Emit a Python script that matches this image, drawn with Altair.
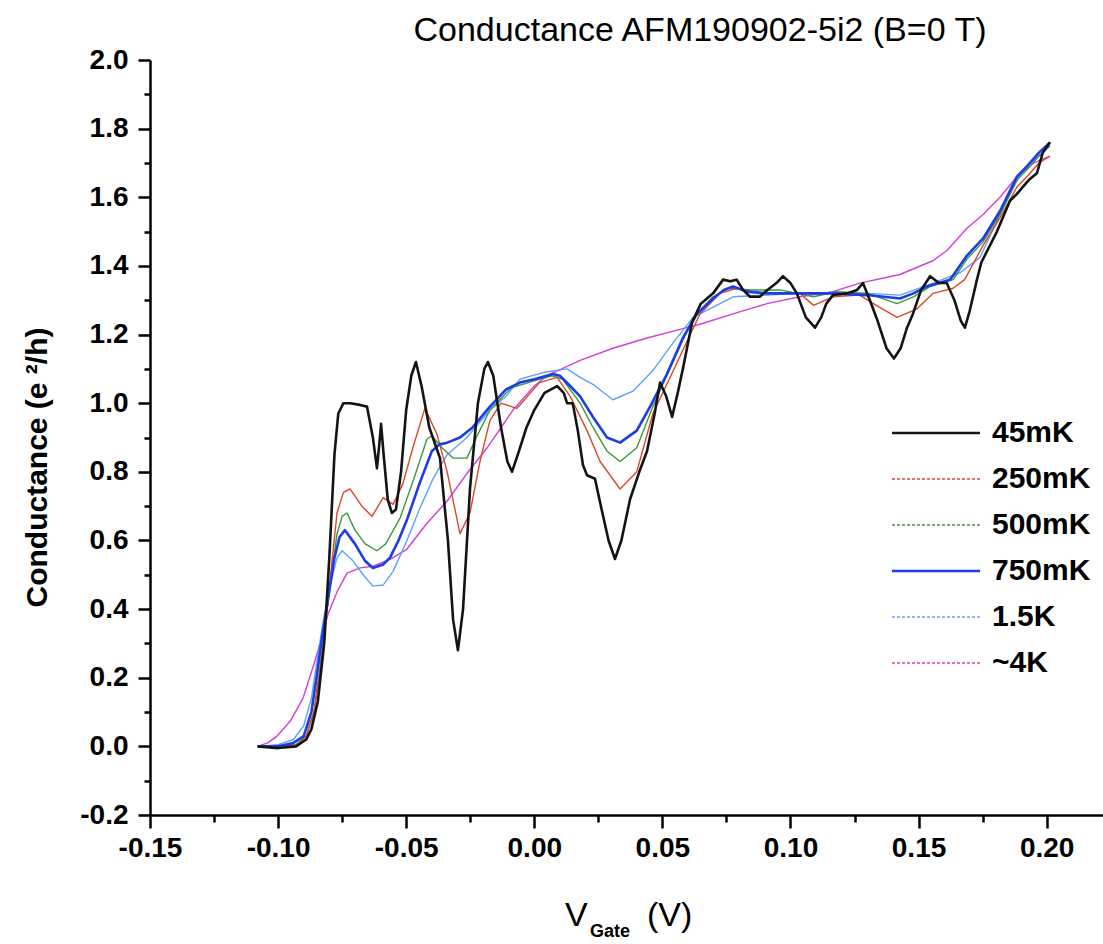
import altair as alt
import pandas as pd
import numpy as np

FONT = "Liberation Sans"

series_labels = ["45mK", "250mK", "500mK", "750mK", "1.5K", "~4K"]
series_colors = ["#141414", "#d8482a", "#3a9a3a", "#1c3ce6", "#5aa2ff", "#d33fd3"]
series_widths = [2.6, 1.4, 1.4, 2.6, 1.4, 1.4]
series_dotted = [False, True, True, False, True, True]
draw_order = ["~4K", "1.5K", "500mK", "250mK", "750mK", "45mK"]

x_45mK = [-0.108, -0.100, -0.093, -0.089, -0.087, -0.0845, -0.082, -0.080, -0.078, -0.0765,
          -0.0745, -0.0719, -0.068, -0.0653, -0.0630, -0.0614, -0.0605, -0.0598, -0.0588, -0.0572,
          -0.0556, -0.0540, -0.0520, -0.0500, -0.0480, -0.0462, -0.0440, -0.0410, -0.0368, -0.0337,
          -0.0317, -0.0298, -0.0278, -0.0251, -0.0220, -0.0195, -0.0181, -0.0160, -0.0130, -0.0105,
          -0.0087, -0.0060, -0.0030, 0.0000, 0.0040, 0.0089, 0.0115, 0.0128, 0.0150, 0.0170,
          0.0190, 0.0206, 0.0237, 0.0260, 0.0290, 0.0315, 0.0340, 0.0374, 0.0410, 0.0440,
          0.0470, 0.0491, 0.0515, 0.0538, 0.0560, 0.0580, 0.0616, 0.0650, 0.0698, 0.0737,
          0.0765, 0.0790, 0.0815, 0.0842, 0.0880, 0.0910, 0.0945, 0.0971, 0.1000, 0.1025,
          0.1060, 0.1096, 0.1120, 0.1140, 0.1166, 0.1220, 0.1260, 0.1283, 0.1310, 0.1340,
          0.1375, 0.1404, 0.1430, 0.1455, 0.1478, 0.1510, 0.1545, 0.1580, 0.1610, 0.1640,
          0.1665, 0.1681, 0.1700, 0.1728, 0.1745, 0.1806, 0.1857, 0.1884, 0.1930, 0.1962,
          0.1985, 0.2013]
y_45mK = [0.00, -0.005, 0.00, 0.02, 0.05, 0.13, 0.30, 0.55, 0.85, 0.97,
          1.00, 1.00, 0.995, 0.99, 0.90, 0.81, 0.88, 0.94, 0.85, 0.72,
          0.68, 0.69, 0.80, 0.98, 1.08, 1.12, 1.05, 0.93, 0.84, 0.60,
          0.37, 0.28, 0.40, 0.75, 1.00, 1.10, 1.12, 1.08, 0.93, 0.83,
          0.80, 0.86, 0.93, 0.98, 1.03, 1.05, 1.03, 1.00, 1.00, 0.92,
          0.82, 0.79, 0.78, 0.70, 0.60, 0.546, 0.60, 0.72, 0.80, 0.86,
          0.97, 1.06, 1.02, 0.96, 1.03, 1.10, 1.235, 1.29, 1.32, 1.36,
          1.355, 1.36, 1.33, 1.31, 1.31, 1.33, 1.35, 1.37, 1.35, 1.32,
          1.25, 1.22, 1.25, 1.29, 1.315, 1.32, 1.33, 1.35, 1.30, 1.24,
          1.16, 1.13, 1.16, 1.22, 1.26, 1.33, 1.37, 1.35, 1.35, 1.30,
          1.24, 1.22, 1.27, 1.36, 1.41, 1.50, 1.59, 1.61, 1.65, 1.67,
          1.73, 1.76]

x_250mK = [-0.108, -0.100, -0.092, -0.089, -0.086, -0.084, -0.082, -0.0795, -0.077, -0.0745,
           -0.0719, -0.0673, -0.0633, -0.0590, -0.0551, -0.0513, -0.0474, -0.0427, -0.0380, -0.0340,
           -0.0290, -0.0251, -0.0212, -0.0173, -0.0130, -0.0067, 0.0020, 0.0089, 0.0140, 0.0206,
           0.0257, 0.0335, 0.0400, 0.0463, 0.0530, 0.0596, 0.0647, 0.0725, 0.0790, 0.0850,
           0.0908, 0.1037, 0.1090, 0.1166, 0.1270, 0.1335, 0.1416, 0.1494, 0.1557, 0.1635,
           0.1680, 0.1752, 0.1818, 0.1884, 0.1923, 0.1970, 0.2013]
y_250mK = [0.00, 0.00, 0.005, 0.03, 0.10, 0.20, 0.32, 0.50, 0.68, 0.74,
           0.75, 0.70, 0.67, 0.725, 0.705, 0.765, 0.87, 0.985, 0.91, 0.80,
           0.62, 0.68, 0.83, 0.95, 1.00, 0.985, 1.06, 1.075, 1.02, 0.92,
           0.83, 0.75, 0.80, 0.97, 1.075, 1.18, 1.26, 1.32, 1.335, 1.325,
           1.32, 1.32, 1.285, 1.31, 1.315, 1.285, 1.25, 1.275, 1.32, 1.335,
           1.36, 1.46, 1.54, 1.63, 1.66, 1.70, 1.72]

x_500mK = [-0.108, -0.100, -0.093, -0.089, -0.086, -0.084, -0.082, -0.0795, -0.077, -0.0750,
           -0.0731, -0.0700, -0.0660, -0.0614, -0.0580, -0.0524, -0.0470, -0.0419, -0.0400, -0.0360,
           -0.0317, -0.0263, -0.0220, -0.0173, -0.0090, 0.0000, 0.0070, 0.0110, 0.0179, 0.0229,
           0.0284, 0.0335, 0.0400, 0.0463, 0.0541, 0.0620, 0.0698, 0.0760, 0.0850, 0.0960,
           0.1090, 0.1180, 0.1300, 0.1416, 0.1480, 0.1545, 0.1635, 0.1689, 0.1752, 0.1818,
           0.1884, 0.1923, 0.1970, 0.2013]
y_500mK = [0.00, 0.00, 0.005, 0.03, 0.10, 0.21, 0.33, 0.48, 0.62, 0.67,
           0.68, 0.63, 0.59, 0.57, 0.59, 0.665, 0.78, 0.895, 0.905, 0.87,
           0.84, 0.84, 0.91, 0.98, 1.045, 1.065, 1.08, 1.07, 1.00, 0.93,
           0.86, 0.83, 0.87, 0.99, 1.12, 1.25, 1.31, 1.335, 1.33, 1.33,
           1.31, 1.325, 1.32, 1.29, 1.31, 1.34, 1.36, 1.42, 1.47, 1.55,
           1.65, 1.68, 1.72, 1.75]

x_750mK = [-0.108, -0.100, -0.094, -0.090, -0.087, -0.085, -0.083, -0.0805, -0.078, -0.0760,
           -0.0739, -0.0700, -0.0660, -0.0630, -0.0590, -0.0563, -0.0530, -0.0497, -0.0446, -0.0400,
           -0.0370, -0.0340, -0.0290, -0.0240, -0.0173, -0.0110, -0.0056, 0.0000, 0.0073, 0.0100,
           0.0140, 0.0179, 0.0229, 0.0284, 0.0335, 0.0400, 0.0452, 0.0518, 0.0580, 0.0635,
           0.0698, 0.0740, 0.0776, 0.0830, 0.0908, 0.1037, 0.1166, 0.1300, 0.1428, 0.1480,
           0.1533, 0.1623, 0.1689, 0.1752, 0.1818, 0.1884, 0.1923, 0.1970, 0.2013]
y_750mK = [0.00, 0.00, 0.01, 0.03, 0.10, 0.20, 0.31, 0.43, 0.55, 0.61,
           0.63, 0.59, 0.54, 0.52, 0.53, 0.55, 0.60, 0.66, 0.77, 0.86,
           0.88, 0.885, 0.90, 0.93, 0.99, 1.04, 1.06, 1.07, 1.085, 1.08,
           1.05, 1.02, 0.96, 0.90, 0.885, 0.92, 0.99, 1.085, 1.19, 1.26,
           1.305, 1.33, 1.34, 1.325, 1.32, 1.32, 1.32, 1.315, 1.305, 1.32,
           1.34, 1.36, 1.43, 1.48, 1.56, 1.66, 1.69, 1.73, 1.76]

x_1p5K = [-0.108, -0.100, -0.094, -0.090, -0.087, -0.085, -0.0825, -0.080, -0.077, -0.0750,
          -0.0707, -0.0668, -0.0630, -0.0590, -0.0551, -0.0497, -0.0446, -0.0395, -0.0340, -0.0263,
          -0.0173, -0.0110, -0.0056, 0.0040, 0.0128, 0.0179, 0.0229, 0.0307, 0.0385, 0.0463,
          0.0541, 0.0620, 0.0698, 0.0776, 0.0908, 0.1037, 0.1166, 0.1300, 0.1428, 0.1557,
          0.1662, 0.1740, 0.1818, 0.1884, 0.1923, 0.1970, 0.2013]
y_1p5K = [0.00, 0.005, 0.02, 0.06, 0.14, 0.24, 0.36, 0.46, 0.55, 0.57,
          0.54, 0.50, 0.467, 0.47, 0.51, 0.60, 0.695, 0.78, 0.85, 0.90,
          0.98, 1.02, 1.07, 1.09, 1.10, 1.075, 1.055, 1.01, 1.035, 1.095,
          1.175, 1.25, 1.28, 1.31, 1.315, 1.32, 1.32, 1.32, 1.315, 1.35,
          1.38, 1.425, 1.55, 1.65, 1.69, 1.72, 1.75]

x_4K = [-0.108, -0.104, -0.1004, -0.0953, -0.0903, -0.0864, -0.0830, -0.0805, -0.0770, -0.0731,
        -0.0680, -0.0630, -0.0563, -0.0497, -0.0419, -0.0340, -0.0263, -0.0184, -0.0083, 0.0000,
        0.0050, 0.0179, 0.0307, 0.0440, 0.0569, 0.0647, 0.0776, 0.0908, 0.1037, 0.1166,
        0.1271, 0.1427, 0.1556, 0.1611, 0.1689, 0.1752, 0.1818, 0.1884, 0.1950, 0.2013]
y_4K = [0.00, 0.01, 0.03, 0.073, 0.14, 0.23, 0.315, 0.385, 0.45, 0.505,
        0.52, 0.525, 0.545, 0.575, 0.65, 0.715, 0.795, 0.87, 0.98, 1.05,
        1.08, 1.125, 1.16, 1.19, 1.215, 1.23, 1.26, 1.29, 1.31, 1.325,
        1.35, 1.375, 1.415, 1.445, 1.51, 1.55, 1.60, 1.66, 1.70, 1.72]

series_data = {
    "45mK": (x_45mK, y_45mK),
    "250mK": (x_250mK, y_250mK),
    "500mK": (x_500mK, y_500mK),
    "750mK": (x_750mK, y_750mK),
    "1.5K": (x_1p5K, y_1p5K),
    "~4K": (x_4K, y_4K),
}

x_ticks = [round(-0.15 + 0.025 * i, 3) + 0.0 for i in range(15)]
y_ticks = [round(-0.2 + 0.1 * i, 2) + 0.0 for i in range(23)]

title_text = "Conductance AFM190902-5i2 (B=0 T)"
y_title = "Conductance (e \u00b2/h)"

# ---------- build tables ----------
width_of = dict(zip(series_labels, series_widths))
rows = []
for s in draw_order:
    xs, ys = series_data[s]
    for i, (a, b) in enumerate(zip(xs, ys)):
        rows.append({"series": s, "V": a, "G": b, "w": width_of[s], "i": i})
df = pd.DataFrame(rows)

legend_df = pd.DataFrame({
    "series": series_labels,
    "row": list(range(len(series_labels))),
    "dotted": series_dotted,
    "w": series_widths,
})

color_scale = alt.Scale(domain=series_labels, range=series_colors)

major_x = "abs(round(datum.value*40)) % 2 == 0"
major_y = "abs(round(datum.value*10)) % 2 == 0"

x_axis = alt.Axis(
    values=x_ticks, format=".2f",
    labelExpr=f"{major_x} ? replace(datum.label, '\u2212', '-') : ''",
    tickSize={"condition": {"test": major_x, "value": 13}, "value": 7},
    labelFont=FONT, labelFontSize=28, labelFontWeight="bold", labelColor="black",
    labelPadding=6, labelFlush=False, labelOverlap=False,
    domainColor="black", domainWidth=2.5, tickColor="black", tickWidth=2.5,
    grid=False, title=None,
)
y_axis = alt.Axis(
    values=y_ticks, format=".1f",
    labelExpr=f"{major_y} ? replace(datum.label, '\u2212', '-') : ''",
    tickSize={"condition": {"test": major_y, "value": 12}, "value": 6},
    labelFont=FONT, labelFontSize=28, labelFontWeight="bold", labelColor="black",
    labelPadding=10, labelFlush=False, labelOverlap=False,
    domainColor="black", domainWidth=2.5, tickColor="black", tickWidth=2.5,
    grid=False,
    title=y_title, titleFont=FONT, titleFontSize=30, titleFontWeight="bold",
    titleColor="black", titleX=-113, titleY=407, titleAngle=-90,
    titleAlign="center", titleBaseline="middle",
)

lines = alt.Chart(df).mark_line(interpolate="linear", strokeJoin="round").encode(
    x=alt.X("V:Q", scale=alt.Scale(domain=[-0.15, 0.222], nice=False, zero=False), axis=x_axis),
    y=alt.Y("G:Q", scale=alt.Scale(domain=[-0.2, 2.0], nice=False, zero=False), axis=y_axis),
    color=alt.Color("series:N", scale=color_scale, legend=None),
    size=alt.Size("w:Q", scale=None, legend=None),
    detail="series:N",
    order="i:Q",
)

leg_y = alt.Y("row:Q", scale=alt.Scale(domain=[0, 5], range=[373, 603]), axis=None)
leg_base = alt.Chart(legend_df).encode(
    y=leg_y,
    color=alt.Color("series:N", scale=color_scale, legend=None),
    size=alt.Size("w:Q", scale=None, legend=None),
)
leg_solid = leg_base.transform_filter("!datum.dotted").mark_rule().encode(
    x=alt.value(742), x2=alt.value(830))
leg_dotted = leg_base.transform_filter("datum.dotted").mark_rule(strokeDash=[3, 2]).encode(
    x=alt.value(742), x2=alt.value(830))
leg_text = alt.Chart(legend_df).mark_text(
    align="left", baseline="middle", font=FONT, fontSize=30, fontWeight="bold", color="black"
).encode(x=alt.value(842), y=leg_y, text="series:N")

title_mark = alt.Chart(pd.DataFrame({"t": [title_text]})).mark_text(
    align="center", baseline="alphabetic", font=FONT, fontSize=34, color="black"
).encode(x=alt.value(550), y=alt.value(-19), text="t:N")

xt_v = alt.Chart(pd.DataFrame({"t": ["V"]})).mark_text(
    align="left", baseline="alphabetic", font=FONT, fontSize=34, color="black"
).encode(x=alt.value(415), y=alt.value(866), text="t:N")
xt_sub = alt.Chart(pd.DataFrame({"t": ["Gate"]})).mark_text(
    align="left", baseline="alphabetic", font=FONT, fontSize=18, fontWeight="bold", color="black"
).encode(x=alt.value(440), y=alt.value(877), text="t:N")
xt_unit = alt.Chart(pd.DataFrame({"t": ["(V)"]})).mark_text(
    align="left", baseline="alphabetic", font=FONT, fontSize=34, color="black"
).encode(x=alt.value(497), y=alt.value(866), text="t:N")

chart = alt.layer(
    lines, leg_solid, leg_dotted, leg_text, title_mark, xt_v, xt_sub, xt_unit
).resolve_scale(y="independent").properties(
    width=953, height=755,
    padding={"left": 150, "top": 60, "right": 0, "bottom": 129},
    autosize=alt.AutoSizeParams(type="none"),
    background="white",
).configure_view(stroke=None)

chart.save("out.html", embed_options={"renderer": "svg", "actions": False})
